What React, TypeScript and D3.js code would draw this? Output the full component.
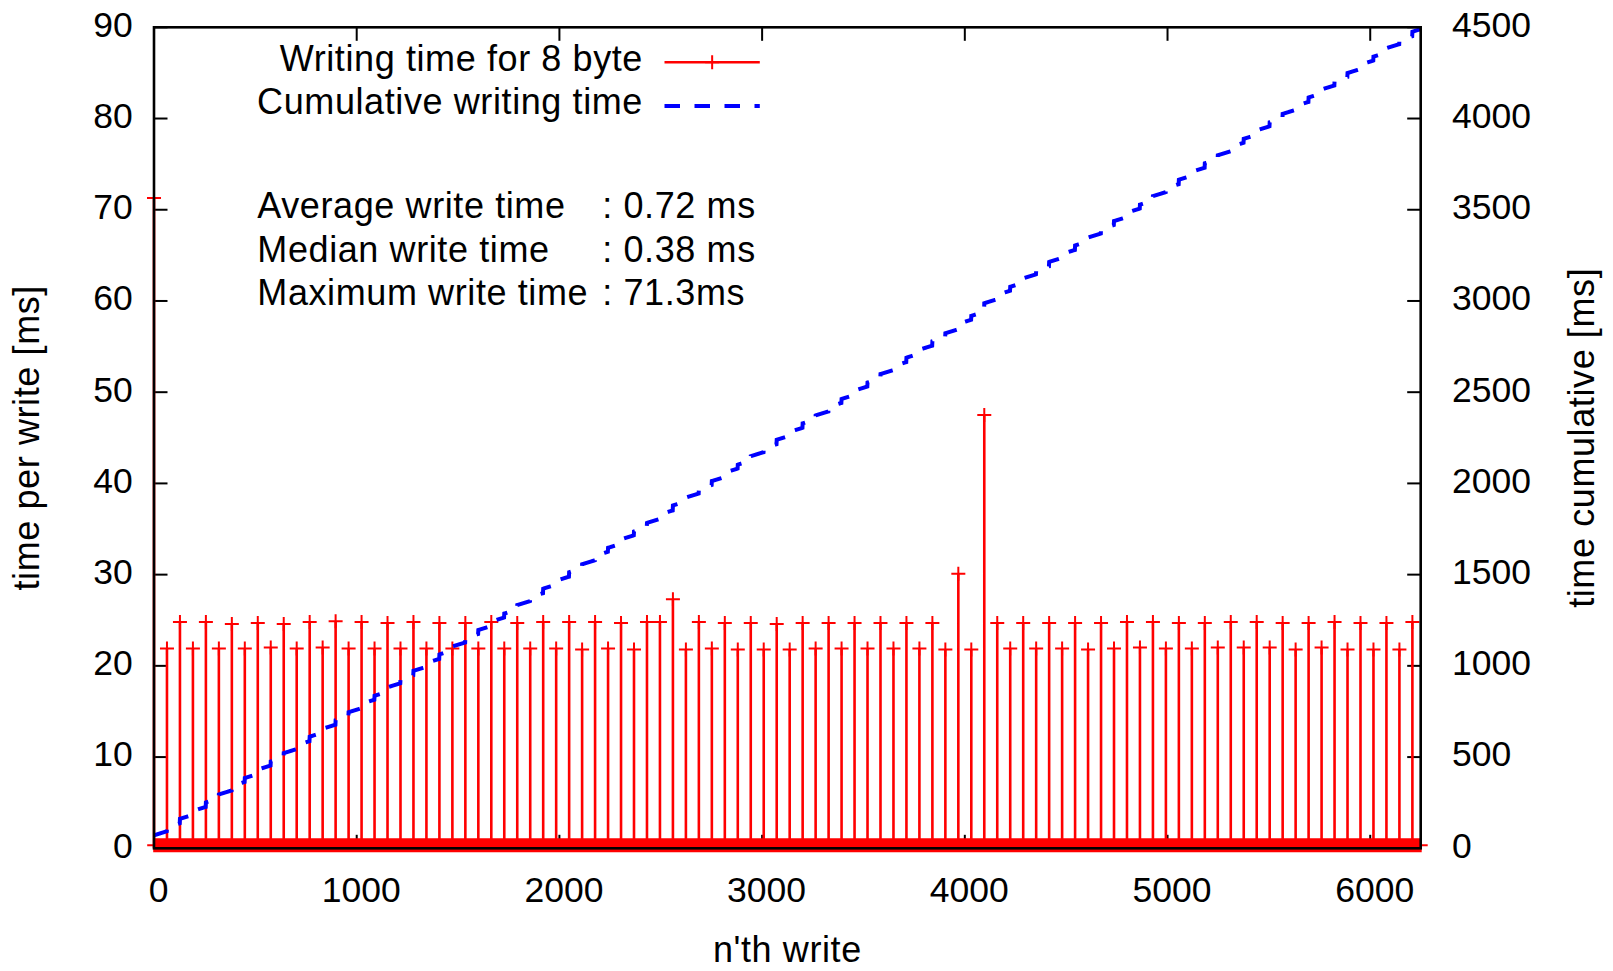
import React, { useRef, useEffect } from 'react';
import * as d3 from 'd3';

// writes that took long (index of the write, time in ms)
const spikeWrite = [
  0, 64, 128, 192, 256, 320, 384, 448, 512, 576, 640, 704, 768, 832, 896, 960,
  1024, 1088, 1152, 1216, 1280, 1344, 1408, 1472, 1536, 1600, 1664, 1728, 1792,
  1856, 1920, 1984, 2048, 2112, 2176, 2240, 2304, 2368, 2432, 2496, 2560, 2624,
  2688, 2752, 2816, 2880, 2944, 3008, 3072, 3136, 3200, 3264, 3328, 3392, 3456,
  3520, 3584, 3648, 3712, 3776, 3840, 3904, 3968, 4032, 4096, 4160, 4224, 4288,
  4352, 4416, 4480, 4544, 4608, 4672, 4736, 4800, 4864, 4928, 4992, 5056, 5120,
  5184, 5248, 5312, 5376, 5440, 5504, 5568, 5632, 5696, 5760, 5824, 5888, 5952,
  6016, 6080, 6144, 6208
];
const spikeMs = [
  71.3,
  21.9, 24.8, 21.9, 24.8, 21.9, 24.6, 21.9, 24.7, 22.0, 24.6, 21.9, 24.8, 22.0, 24.9, 21.9, 24.8,
  21.9, 24.7, 21.9, 24.8, 21.9, 24.7, 21.9, 24.7, 21.9, 24.8, 21.9, 24.7, 21.9, 24.8,
  21.9, 24.8, 21.8, 24.8, 21.9, 24.7, 21.8, 24.8, 24.8, 27.3, 21.8, 24.8, 21.9, 24.7,
  21.8, 24.7, 21.8, 24.6, 21.8, 24.7, 21.9, 24.7, 21.9, 24.7, 21.9, 24.7, 21.9, 24.7,
  21.9, 24.7, 21.8, 30.1, 21.8, 47.5, 24.7, 21.9, 24.7, 21.9, 24.7, 21.9, 24.7, 21.8,
  24.7, 21.9, 24.8, 22.0, 24.8, 21.9, 24.7, 21.9, 24.7, 22.0, 24.8, 22.0, 24.8, 22.0,
  24.7, 21.8, 24.7, 22.0, 24.8, 21.8, 24.7, 21.8, 24.7, 21.8, 24.8
];
// every other write sits in the thick band near zero
const typicalWriteMs = 0.345;
const totalWrites = 6250;

const xTicks = [0, 1000, 2000, 3000, 4000, 5000, 6000];
const yTicks = [0, 10, 20, 30, 40, 50, 60, 70, 80, 90];
const y2Ticks = [0, 500, 1000, 1500, 2000, 2500, 3000, 3500, 4000, 4500];

const legendLabels = ['Writing time for 8 byte', 'Cumulative writing time'];
const statNames = ['Average write time', 'Median write time', 'Maximum write time'];
const statValues = [': 0.72 ms', ': 0.38 ms', ': 71.3ms'];

const W = 1613, H = 971;
const font = '"Liberation Sans", Arial, Helvetica, sans-serif';

const App = () => {
  const svgRef = useRef<SVGSVGElement>(null);

  useEffect(() => {
    const svg = d3.select(svgRef.current);
    svg.selectAll('*').remove();

    const left = 154, right = 1420.7, top = 27.3, bottom = 848.3;

    const x = d3.scaleLinear().domain([0, totalWrites - 1]).range([left, right]);
    const y = d3.scaleLinear().domain([0, 90]).range([bottom, top]);
    const y2 = d3.scaleLinear().domain([0, 4500]).range([bottom, top]);

    const byWrite = new Map<number, number>();
    spikeWrite.forEach((w, i) => byWrite.set(w, spikeMs[i]));
    const perWrite = d3.range(totalWrites).map(i => byWrite.get(i) ?? typicalWriteMs);
    const cumulative = Array.from(d3.cumsum(perWrite));

    svg.append('defs').append('clipPath').attr('id', 'plotclip')
      .append('rect')
      .attr('x', left).attr('y', top)
      .attr('width', right - left).attr('height', bottom - top);

    const tickLen = 13.5;
    const ticks = svg.append('g').attr('stroke', '#000').attr('stroke-width', 2);
    xTicks.forEach(t => {
      ticks.append('line').attr('x1', x(t)).attr('x2', x(t)).attr('y1', bottom).attr('y2', bottom - tickLen);
      ticks.append('line').attr('x1', x(t)).attr('x2', x(t)).attr('y1', top).attr('y2', top + tickLen);
    });
    yTicks.forEach(t => {
      ticks.append('line').attr('x1', left).attr('x2', left + tickLen).attr('y1', y(t)).attr('y2', y(t));
    });
    y2Ticks.forEach(t => {
      ticks.append('line').attr('x1', right).attr('x2', right - tickLen).attr('y1', y2(t)).attr('y2', y2(t));
    });

    // impulses
    let stems = '';
    perWrite.forEach((v, i) => {
      stems += `M${x(i).toFixed(2)},${y(0)}V${y(v).toFixed(2)}`;
    });
    svg.append('path').attr('d', stems)
      .attr('fill', 'none').attr('stroke', '#ff0000').attr('stroke-width', 2.6);

    // "+" point markers
    const arm = 7;
    let crosses = '';
    perWrite.forEach((v, i) => {
      const cx = x(i), cy = y(v);
      crosses += `M${(cx - arm).toFixed(2)},${cy.toFixed(2)}h${arm * 2}M${cx.toFixed(2)},${(cy - arm).toFixed(2)}v${arm * 2}`;
    });
    svg.append('path').attr('d', crosses)
      .attr('fill', 'none').attr('stroke', '#ff0000').attr('stroke-width', 2);

    // cumulative on the right axis
    const line = d3.line<number>()
      .x((d, i) => x(i))
      .y(d => y2(d));
    svg.append('path')
      .attr('d', line(cumulative))
      .attr('clip-path', 'url(#plotclip)')
      .attr('fill', 'none')
      .attr('stroke', '#0000ff')
      .attr('stroke-width', 4)
      .attr('stroke-dasharray', '15,14');

    // border
    svg.append('rect')
      .attr('x', left).attr('y', top)
      .attr('width', right - left).attr('height', bottom - top)
      .attr('fill', 'none').attr('stroke', '#000').attr('stroke-width', 2.6);

    const nums = svg.append('g').attr('font-family', font).attr('font-size', 35.5).attr('fill', '#000');
    const txt = svg.append('g').attr('font-family', font).attr('font-size', 36)
      .attr('letter-spacing', '0.6px').attr('fill', '#000');

    yTicks.forEach(t => {
      nums.append('text').attr('x', 132.7).attr('y', y(t) + 9.4)
        .attr('text-anchor', 'end').text(t);
    });
    y2Ticks.forEach(t => {
      nums.append('text').attr('x', 1452).attr('y', y2(t) + 9.4)
        .attr('text-anchor', 'start').text(t);
    });
    xTicks.forEach(t => {
      nums.append('text').attr('x', x(t) + 4.5).attr('y', 901.7)
        .attr('text-anchor', 'middle').text(t);
    });

    txt.append('text').attr('x', (left + right) / 2).attr('y', 962)
      .attr('text-anchor', 'middle').text("n'th write");
    txt.append('text')
      .attr('transform', `translate(39,${(top + bottom) / 2}) rotate(-90)`)
      .attr('text-anchor', 'middle').text('time per write [ms]');
    txt.append('text')
      .attr('transform', `translate(1594,${(top + bottom) / 2}) rotate(-90)`)
      .attr('text-anchor', 'middle').text('time cumulative [ms]');

    // legend
    const legX = 643, sx1 = 664.5, sx2 = 759.8;
    legendLabels.forEach((l, i) => {
      txt.append('text').attr('x', legX).attr('y', 71 + i * 43.3)
        .attr('text-anchor', 'end').text(l);
    });
    const ly1 = 62.3, ly2 = 106;
    svg.append('line').attr('x1', sx1).attr('x2', sx2).attr('y1', ly1).attr('y2', ly1)
      .attr('stroke', '#ff0000').attr('stroke-width', 2.5);
    const mid = (sx1 + sx2) / 2;
    svg.append('path')
      .attr('d', `M${mid - arm},${ly1}h${arm * 2}M${mid},${ly1 - arm}v${arm * 2}`)
      .attr('stroke', '#ff0000').attr('stroke-width', 2);
    svg.append('line').attr('x1', sx1).attr('x2', sx2).attr('y1', ly2).attr('y2', ly2)
      .attr('stroke', '#0000ff').attr('stroke-width', 4).attr('stroke-dasharray', '15.5,14.5');

    // stats block
    statNames.forEach((s, i) => {
      txt.append('text').attr('x', 257.3).attr('y', 218.3 + i * 43.3).text(s);
      txt.append('text').attr('x', 602.3).attr('y', 218.3 + i * 43.3).text(statValues[i]);
    });
  }, []);

  return (
    <svg ref={svgRef} width={W} height={H}
      style={{ position: 'absolute', left: 0, top: 0, display: 'block', background: '#fff' }} />
  );
};

export default App;
